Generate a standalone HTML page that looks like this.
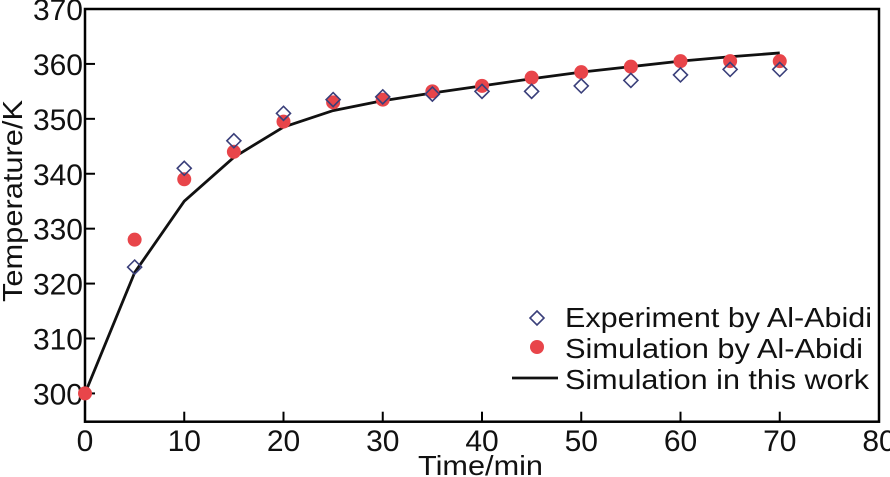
<!DOCTYPE html>
<html><head><meta charset="utf-8"><style>
html,body{margin:0;padding:0;background:#fff;}
svg{display:block;font-family:"Liberation Sans",Arial,sans-serif;}
</style></head><body>
<svg id="chart" width="890" height="477" viewBox="0 0 890 477"></svg>
<script>
const xTicks=[0,10,20,30,40,50,60,70,80];
const yTicks=[300,310,320,330,340,350,360,370];
const expTime=[5,10,15,20,25,30,35,40,45,50,55,60,65,70];
const expTemp=[323,341,346,351,353.5,354,354.5,355,355,356,357,358,359,359];
const simTime=[0,5,10,15,20,25,30,35,40,45,50,55,60,65,70];
const simTemp=[300,328,339,344,349.5,353,353.5,355,356,357.5,358.5,359.5,360.5,360.5,360.5];
const workTime=[0,5,10,15,20,25,30,35,40,45,50,55,60,65,70];
const workTemp=[300,322,335,343,348.5,351.5,353.3,354.7,356,357.3,358.5,359.5,360.5,361.3,362];

const L=85,R=879,T=9,B=421.7;
const X0=0,X1=80,Y0=294.85,Y1=370;
const sx=v=>L+(v-X0)/(X1-X0)*(R-L);
const sy=v=>B-(v-Y0)/(Y1-Y0)*(B-T);
const svg=document.getElementById('chart');
const NS='http://www.w3.org/2000/svg';
function mk(tag,attrs,parent){const e=document.createElementNS(NS,tag);for(const k in attrs)e.setAttribute(k,attrs[k]);(parent||svg).appendChild(e);return e;}

const frame=mk('rect',{x:L,y:T,width:R-L,height:B-T,fill:'none',stroke:'#000','stroke-width':2.5});



xTicks.forEach(t=>{
  const ln=mk('line',{x1:sx(t),x2:sx(t),y1:B,y2:B-10,stroke:'#000','stroke-width':2});
  
  
  const tx=mk('text',{x:sx(t),y:451,'font-size':30,'text-anchor':'middle',fill:'#111'});
  tx.textContent=t;
  
  
});
yTicks.forEach(t=>{
  const ln=mk('line',{x1:L,x2:L+10,y1:sy(t),y2:sy(t),stroke:'#000','stroke-width':2});
  
  
  const tx=mk('text',{x:83,y:sy(t)+11,'font-size':30,'text-anchor':'end',fill:'#111'});
  tx.textContent=t;
  
  
});
const xt=mk('text',{x:418,y:475,'font-size':28,textLength:125,lengthAdjust:'spacingAndGlyphs',fill:'#111'});
xt.textContent='Time/min';


const yt=mk('text',{x:0,y:0,'font-size':28,textLength:202,lengthAdjust:'spacingAndGlyphs',fill:'#111',transform:'translate(22,302) rotate(-90)'});
yt.textContent='Temperature/K';



const pts=workTime.map((t,i)=>sx(t)+','+sy(workTemp[i])).join(' ');
const line=mk('polyline',{points:pts,fill:'none',stroke:'#111','stroke-width':2.8,'stroke-linejoin':'round'});



simTime.forEach((t,i)=>{
  const c=mk('circle',{cx:sx(t),cy:sy(simTemp[i]),r:7,fill:'#e8454a'});
  
  
});
function diamond(cx,cy){return `${cx},${cy-7} ${cx+7},${cy} ${cx},${cy+7} ${cx-7},${cy}`;}
expTime.forEach((t,i)=>{
  const d=mk('polygon',{points:diamond(sx(t),sy(expTemp[i])),fill:'none',stroke:'#3a3f7a','stroke-width':1.6});
  
  
});

const lg=mk('g',{});


const d1=mk('polygon',{points:diamond(537,318),fill:'none',stroke:'#3a3f7a','stroke-width':1.6},lg);


const c1=mk('circle',{cx:537,cy:347,r:7,fill:'#e8454a'},lg);


const l1=mk('line',{x1:512,x2:558,y1:378,y2:378,stroke:'#111','stroke-width':2.8},lg);


const labels=['Experiment by Al-Abidi','Simulation by Al-Abidi','Simulation in this work'];
const ys=[327,358,389];
const widths=[307,298,304];
labels.forEach((s,i)=>{
  const tx=mk('text',{x:565,y:ys[i],'font-size':28,textLength:widths[i],lengthAdjust:'spacingAndGlyphs',fill:'#111'},lg);
  tx.textContent=s;
  
  
});
</script>
</body></html>
